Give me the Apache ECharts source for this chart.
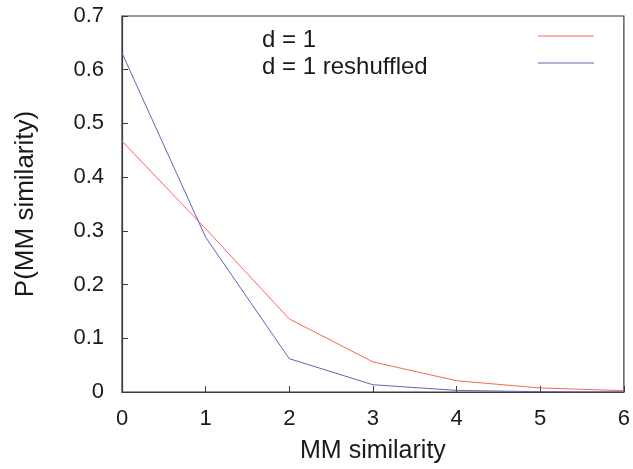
<!DOCTYPE html>
<html>
<head>
<meta charset="utf-8">
<script src="https://cdn.jsdelivr.net/npm/echarts@6/dist/echarts.min.js"></script>
<style>html,body{margin:0;padding:0;background:#fff}#c{width:633px;height:469px}</style>
</head>
<body>
<div id="c"></div>
<script>
const xValues = [0, 1, 2, 3, 4, 5, 6];
const seriesNames = ['d = 1', 'd = 1 reshuffled'];
const d1 = [0.467, 0.304, 0.136, 0.056, 0.021, 0.0075, 0.0025];
const d1Reshuffled = [0.631, 0.288, 0.062, 0.0135, 0.003, 0.0005, 0.0];
const yTicks = [0, 0.1, 0.2, 0.3, 0.4, 0.5, 0.6, 0.7];

const chart = echarts.init(document.getElementById('c'), null, {renderer: 'canvas'});
const font = 'Liberation Sans, Arial, Helvetica, sans-serif';
const axisColor = '#3a3a3a';
chart.setOption({
  animation: false,
  backgroundColor: '#fff',
  grid: {left: 122, right: 7, top: 16, bottom: 75, show: true, borderColor: axisColor, borderWidth: 1.2},
  legend: {
    show: true,
    orient: 'vertical',
    left: 262,
    top: 28,
    padding: 0,
    align: 'right',
    itemWidth: 56,
    itemHeight: 10,
    itemGap: 3,
    icon: 'path://M0,4.5 L56,4.5 L56,5.5 L0,5.5 Z',
    data: seriesNames,
    formatter: name => '{t|' + name + '}',
    textStyle: {
      fontFamily: font, fontSize: 24, color: '#1a1a1a',
      rich: {t: {fontFamily: font, fontSize: 24, color: '#1a1a1a', width: 271, align: 'left', padding: [8, 0, 0, 0]}}
    }
  },
  xAxis: {
    type: 'value',
    min: 0, max: 6, interval: 1,
    name: 'MM similarity',
    nameLocation: 'middle',
    nameGap: 47,
    nameTextStyle: {fontFamily: font, fontSize: 25, color: '#1a1a1a'},
    axisLine: {lineStyle: {color: axisColor, width: 1.2}},
    axisTick: {inside: true, length: 6, lineStyle: {color: axisColor}},
    axisLabel: {fontFamily: font, fontSize: 22, color: '#1a1a1a', margin: 16},
    splitLine: {show: false}
  },
  yAxis: {
    type: 'value',
    min: 0, max: 0.7, interval: 0.1,
    name: 'P(MM similarity)',
    nameLocation: 'middle',
    nameGap: 83,
    nameTextStyle: {fontFamily: font, fontSize: 26, color: '#1a1a1a'},
    axisLine: {show: true, lineStyle: {color: axisColor, width: 1.2}},
    axisTick: {show: true, inside: true, length: 6, lineStyle: {color: axisColor}},
    axisLabel: {fontFamily: font, fontSize: 22, color: '#1a1a1a', margin: 18,
      formatter: v => { const t = yTicks.find(x => Math.abs(x - v) < 1e-9); return t === 0 ? '0' : t.toFixed(1); }},
    splitLine: {show: false}
  },
  series: [
    {name: seriesNames[0], type: 'line', symbol: 'none', data: xValues.map((x, i) => [x, d1[i]]),
     lineStyle: {color: '#f26a55', width: 1}, itemStyle: {color: '#f26a55'}},
    {name: seriesNames[1], type: 'line', symbol: 'none', data: xValues.map((x, i) => [x, d1Reshuffled[i]]),
     lineStyle: {color: '#6464b8', width: 1}, itemStyle: {color: '#6464b8'}}
  ]
});
</script>
</body>
</html>
